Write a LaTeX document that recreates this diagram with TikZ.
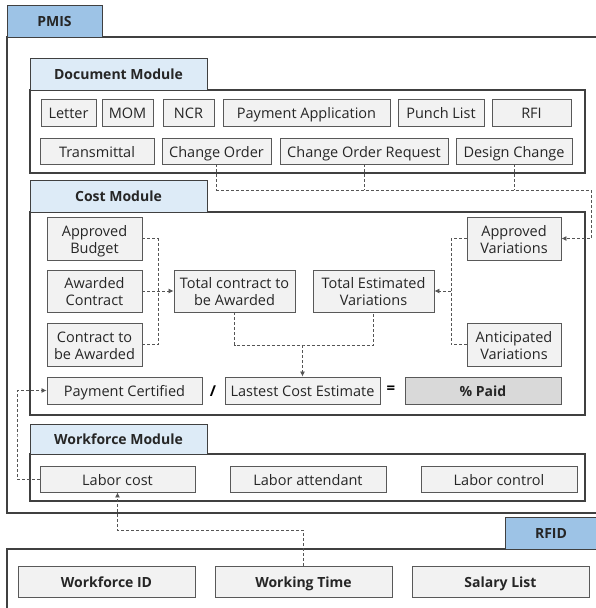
\documentclass[tikz,border=0pt]{standalone}
\usepackage{fontspec}
\setmainfont{Open Sans}
\usetikzlibrary{arrows.meta}
\definecolor{frameclr}{HTML}{404040}
\definecolor{boxclr}{HTML}{F2F2F2}
\definecolor{boxline}{HTML}{595959}
\definecolor{tabclr}{HTML}{DDEBF7}
\definecolor{maintab}{HTML}{9DC3E6}
\definecolor{paidclr}{HTML}{D9D9D9}
\definecolor{dashclr}{HTML}{555555}
\newcommand{\mkbox}[7][]{%
  \node[bx,#1,minimum width={#4pt-#2pt},minimum height={#5pt-#3pt}] (#6) at ({(#2+#4)/2},{(#3+#5)/2}) {#7};}
\begin{document}
\begin{tikzpicture}[x=1pt,y=-1pt,
  bx/.style={draw=boxline,fill=boxclr,line width=0.9pt,inner sep=0pt,align=center,
     font=\fontsize{14.5}{17}\selectfont,text=black!85,text height=15.2pt,text depth=2.7pt},
  ml/.style={text height=32.2pt,text depth=2.7pt},
  boldtxt/.style={text height=14.4pt,text depth=2.6pt},
  bigbx/.style={font=\fontsize{14}{16}\selectfont\bfseries,boldtxt},
  tabbx/.style={fill=tabclr,draw=frameclr,line width=1pt,font=\fontsize{14}{16}\selectfont\bfseries,boldtxt},
  maintabbx/.style={fill=maintab,draw=frameclr,line width=1pt,font=\fontsize{14}{16}\selectfont\bfseries,boldtxt},
  frm/.style={draw=frameclr,line width=1.1pt},
  dl/.style={draw=dashclr,line width=0.8pt,dash pattern=on 3pt off 2pt},
  arr/.style={-{Latex[length=5pt,width=5pt]}}]
\useasboundingbox (0,0) rectangle (595,608);
\fill[white] (0,0) rectangle (595,608);
% PMIS frame
\draw[frm] (600,37) -- (7,37) -- (7,513) -- (600,513);
\mkbox[maintabbx]{7}{5}{102}{37}{pmis}{PMIS}
% RFID frame
\draw[frm] (7,612) -- (7,549) -- (505,549);
\mkbox[maintabbx]{505}{517}{597}{549}{rfid}{RFID}
% Document module
\draw[frm] (30,90) rectangle (585,173);
\mkbox[tabbx]{30}{58}{207}{90}{doctab}{Document Module}
\mkbox{41}{99}{96}{126}{letter}{Letter}
\mkbox{102}{99}{153}{126}{mom}{MOM}
\mkbox{163}{99}{214}{126}{ncr}{NCR}
\mkbox{223}{99}{390}{126}{payapp}{Payment Application}
\mkbox{398}{99}{484}{126}{punch}{Punch List}
\mkbox{492}{99}{571}{126}{rfi}{RFI}
\mkbox{40}{138}{154}{164}{trans}{Transmittal}
\mkbox{162}{138}{271}{164}{co}{Change Order}
\mkbox{280}{138}{448}{164}{cor}{Change Order Request}
\mkbox{456}{138}{572}{164}{dc}{Design Change}
% Cost module
\draw[frm] (30,212) rectangle (585,415);
\mkbox[tabbx]{30}{180}{207}{212}{costtab}{Cost Module}
\mkbox[ml]{47}{217}{142}{260}{ab}{Approved\\Budget}
\mkbox[ml]{47}{270}{142}{312}{ac}{Awarded\\Contract}
\mkbox[ml]{47}{323}{142}{366}{cb}{Contract to\\be Awarded}
\mkbox[ml]{174}{270}{295}{312}{tc}{Total contract to\\be Awarded}
\mkbox[ml]{313}{270}{434}{312}{tev}{Total Estimated\\Variations}
\mkbox[ml]{467}{217}{561}{260}{av}{Approved\\Variations}
\mkbox[ml]{467}{323}{561}{366}{anv}{Anticipated\\Variations}
\mkbox{47}{377}{202}{404}{pc}{Payment Certified}
\mkbox{225}{377}{380}{404}{lce}{Lastest Cost Estimate}
\mkbox[bigbx,fill=paidclr]{405}{377}{561}{404}{paid}{\% Paid}
\node[font=\fontsize{15}{15}\selectfont\bfseries] (slash) at (213,391) {/};
\node[font=\fontsize{15}{15}\selectfont\bfseries] (eq) at (391,390) {=};
% Workforce module
\draw[frm] (30,454) rectangle (585,501);
\mkbox[tabbx]{30}{424}{207}{454}{wftab}{Workforce Module}
\mkbox{40}{466}{195}{492}{lc}{Labor cost}
\mkbox{230}{466}{386}{492}{la}{Labor attendant}
\mkbox{421}{466}{577}{492}{lctl}{Labor control}
% RFID boxes
\mkbox[bigbx]{18}{566}{195}{597}{wid}{Workforce ID}
\mkbox[bigbx]{215}{566}{392}{597}{wt}{Working Time}
\mkbox[bigbx]{412}{566}{589}{597}{sl}{Salary List}
% connectors
\coordinate (busR) at (591,190);
\draw[dl,arr] (co.south) |- (busR) |- (av.east);
\draw[dl] (cor.south) -- (cor.south |- busR);
\draw[dl] (dc.south) -- (dc.south |- busR);
\coordinate (jl) at (158,291);
\draw[dl] (ab.east) -| (jl) |- (cb.east);
\draw[dl,arr] (ac.east) -- (tc.west);
\coordinate (jr) at (451,291);
\draw[dl] (av.west) -| (jr) |- (anv.west);
\draw[dl,arr] (jr) -- (tev.east);
\coordinate (jm) at (302.5,345);
\draw[dl] (tc.south) |- (jm) -| (tev.south);
\draw[dl,arr] (jm) -- (lce.north);
\coordinate (lk) at (17,435);
\draw[dl,arr] (lc.west) -| (lk) |- (pc.west);
\coordinate (wk) at (200,530);
\draw[dl,arr] (wt.north) |- (wk) -| (lc.south);
\end{tikzpicture}
\end{document}
